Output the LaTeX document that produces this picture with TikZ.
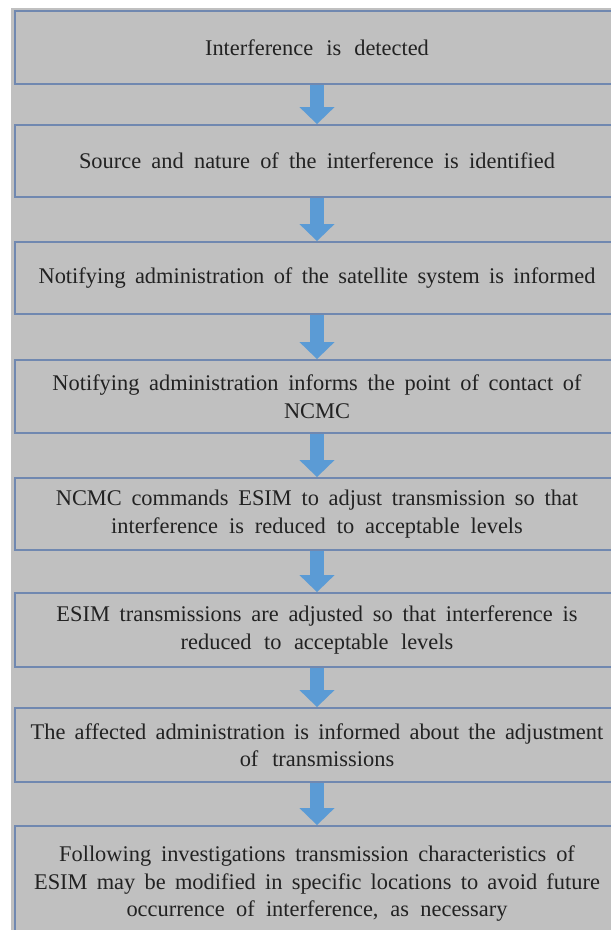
\documentclass[tikz,border=0pt]{standalone}
\usepackage{fontspec}
\setmainfont{Liberation Serif}
\usepackage{tikz}
\usetikzlibrary{arrows.meta}
\usetikzlibrary{calc}

\definecolor{bggray}{RGB}{192,192,192}
\definecolor{boxline}{RGB}{112,136,176}
\definecolor{arrowblue}{RGB}{91,155,213}
\definecolor{textgray}{RGB}{34,34,34}

\newcommand{\boxfont}{\fontsize{22.4}{27.5}\selectfont}
\newcommand{\widespace}{\spaceskip=8.9pt plus 1pt minus 1pt\relax}

\begin{document}
\begin{tikzpicture}[x=1pt, y=-1pt,
    stepbox/.style={draw=boxline, line width=1.8pt, fill=bggray, inner sep=0pt,
        minimum width=604pt, text width=596pt, align=center, text=textgray,
        font=\boxfont, execute at begin node=\widespace},
    downarrow/.style={arrowblue, line width=14pt,
        -{Triangle[width=34pt, length=17pt]}}]

    \def\cx{317};

    \useasboundingbox (0,0) rectangle (611,930);
    \fill[bggray] (11,8) rectangle (611,930);

	%boxes
    \foreach \t/\b/\name/\txt in {
        11/84/s1/{Interference is detected},
        125/197/s2/{Source and nature of the interference is identified},
        242/314/s3/{Notifying administration of the satellite system is informed},
        360/433/s4/{Notifying administration informs the point of contact of\\ NCMC},
        478/550/s5/{NCMC commands ESIM to adjust transmission so that\\ interference is reduced to acceptable levels},
        593/667/s6/{ESIM transmissions are adjusted so that interference is\\ reduced to acceptable levels},
        708/782/s7/{The affected administration is informed about the adjustment\\ of transmissions},
        826/942/s8/{Following investigations transmission characteristics of\\ ESIM may be modified in specific locations to avoid future\\ occurrence of interference, as necessary}}{
           \node[stepbox, minimum height={(\b-\t)*1pt}] (\name) at (\cx, {(\t+\b)/2}) {\txt};
    }

	%arrows
    \foreach \a/\b in {s1/s2,s2/s3,s3/s4,s4/s5,s5/s6,s6/s7,s7/s8}{
           \draw[downarrow] (\a.south) -- (\b.north);
    }

\end{tikzpicture}
\end{document}
